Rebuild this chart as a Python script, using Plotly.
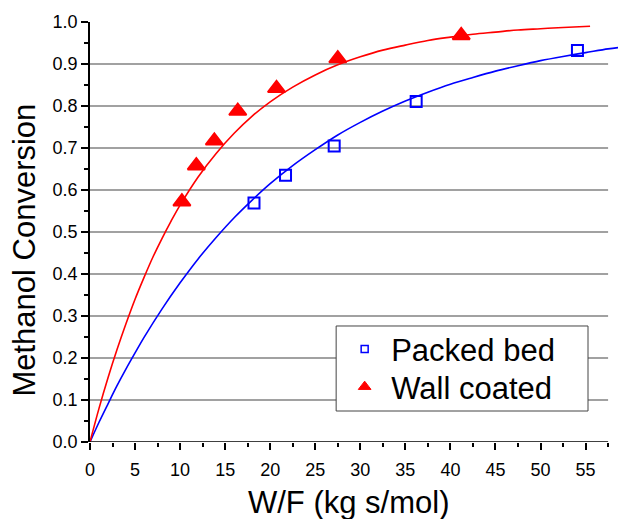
import plotly.graph_objects as go

# Measured data points
packed_x = [18.2, 21.7, 27.1, 36.2, 54.1]
packed_y = [0.569, 0.635, 0.705, 0.811, 0.932]
wall_x = [10.2, 11.8, 13.8, 16.4, 20.7, 27.5, 41.2]
wall_y = [0.572, 0.658, 0.717, 0.788, 0.842, 0.913, 0.968]

# Fitted curves
packed_fit_x = [0, 1, 2, 3, 4, 5, 6, 8, 10, 12, 14, 16, 18, 20, 22.5, 25, 27.5, 30,
                32.5, 35, 37.5, 40, 42.5, 45, 47.5, 50, 52.5, 55, 57.5, 58.6]
packed_fit_y = [0, 0.047, 0.091, 0.134, 0.174, 0.212, 0.249, 0.317, 0.379, 0.436, 0.487,
                0.534, 0.576, 0.615, 0.658, 0.696, 0.731, 0.761, 0.788, 0.812, 0.833,
                0.852, 0.868, 0.883, 0.896, 0.908, 0.918, 0.927, 0.936, 0.939]
wall_fit_x = [0, 1, 2, 3, 4, 5, 6, 7, 8, 9, 10, 12, 14, 16, 18, 20, 22.5, 25, 27.5, 30,
              32.5, 35, 37.5, 40, 42.5, 45, 47.5, 50, 52.5, 55.5]
wall_fit_y = [0, 0.080, 0.153, 0.220, 0.282, 0.340, 0.392, 0.441, 0.485, 0.526, 0.564,
              0.631, 0.687, 0.735, 0.776, 0.810, 0.845, 0.874, 0.898, 0.917, 0.933,
              0.945, 0.956, 0.964, 0.971, 0.976, 0.981, 0.984, 0.987, 0.990]

y_grid = [0.1, 0.2, 0.3, 0.4, 0.5, 0.6, 0.7, 0.8, 0.9]
x_axis_end = 57.5

FONT = "Arial, Liberation Sans, sans-serif"
fig = go.Figure()

fig.add_trace(go.Scatter(x=packed_fit_x, y=packed_fit_y, mode="lines",
                         line=dict(color="#0000FF", width=1.6, shape="spline"),
                         showlegend=False, hoverinfo="skip"))
fig.add_trace(go.Scatter(x=wall_fit_x, y=wall_fit_y, mode="lines",
                         line=dict(color="#FF0000", width=1.6, shape="spline"),
                         showlegend=False, hoverinfo="skip"))
fig.add_trace(go.Scatter(x=packed_x, y=packed_y, mode="markers",
                         marker=dict(symbol="square-open", size=11, color="#0000FF",
                                     line=dict(width=2, color="#0000FF")),
                         showlegend=False, cliponaxis=False))
fig.add_trace(go.Scatter(x=wall_x, y=wall_y, mode="markers",
                         marker=dict(symbol="triangle-up", size=15, color="#FF0000",
                                     line=dict(width=2, color="#FF0000")),
                         showlegend=False, cliponaxis=False))
# legend entries
fig.add_trace(go.Scatter(x=[None], y=[None], mode="markers", name="Packed bed",
                         legend="legend",
                         marker=dict(symbol="square-open", size=7, color="#0000FF",
                                     line=dict(width=1.5, color="#0000FF"))))
fig.add_trace(go.Scatter(x=[None], y=[None], mode="markers", name="Wall coated",
                         legend="legend2",
                         marker=dict(symbol="triangle-up", size=11, color="#FF0000",
                                     line=dict(width=1, color="#FF0000"))))

shapes = []
for g in y_grid:
    shapes.append(dict(type="line", xref="x", yref="y", x0=0, x1=x_axis_end, y0=g, y1=g,
                       line=dict(color="#444444", width=1.1), layer="below"))
shapes.append(dict(type="line", xref="x", yref="y", x0=0, x1=x_axis_end, y0=0, y1=0,
                   line=dict(color="black", width=1.6), layer="above"))
# legend frame
shapes.append(dict(type="rect", xref="paper", yref="paper", x0=0.4662, x1=0.9432,
                   y0=0.0738, y1=0.2762, fillcolor="white",
                   line=dict(color="#444444", width=1), layer="above"))

legend_common = dict(xanchor="left", yanchor="top", bgcolor="rgba(0,0,0,0)",
                     borderwidth=0, itemwidth=43, font=dict(size=31, family=FONT))

fig.update_layout(
    width=618, height=519,
    margin=dict(l=90, r=0, t=22, b=77),
    paper_bgcolor="white", plot_bgcolor="white",
    font=dict(family=FONT, color="black"),
    shapes=shapes,
    xaxis=dict(range=[0, 58.6], showgrid=False, zeroline=False, showline=False,
               tickmode="linear", tick0=0, dtick=5, ticks="outside", ticklen=7,
               tickwidth=1.5, tickcolor="black", tickfont=dict(size=18, family=FONT),
               ticklabelstandoff=4,
               minor=dict(tickmode="linear", tick0=0, dtick=2.5, ticks="outside",
                          ticklen=4, tickwidth=1.5, tickcolor="black", showgrid=False)),
    yaxis=dict(range=[0, 1.0], showgrid=False, zeroline=False, showline=True,
               linecolor="black", linewidth=1.6,
               tickmode="linear", tick0=0, dtick=0.1, tickformat=".1f",
               ticks="outside", ticklen=7, tickwidth=1.5, tickcolor="black",
               tickfont=dict(size=18, family=FONT),
               minor=dict(tickmode="linear", tick0=0, dtick=0.05, ticks="outside",
                          ticklen=4, tickwidth=1.5, tickcolor="black", showgrid=False)),
    legend=dict(x=0.470, y=0.285, **legend_common),
    legend2=dict(x=0.470, y=0.1952, **legend_common),
    annotations=[
        dict(text="W/F (kg s/mol)", xref="paper", yref="paper", x=0.4908, y=-0.144,
             xanchor="center", yanchor="middle", showarrow=False,
             font=dict(size=31, family=FONT)),
        dict(text="Methanol Conversion", xref="paper", yref="paper", x=-0.124, y=0.457,
             xanchor="center", yanchor="middle", showarrow=False, textangle=-90,
             font=dict(size=31, family=FONT)),
    ],
)

fig.write_html("out.html")
